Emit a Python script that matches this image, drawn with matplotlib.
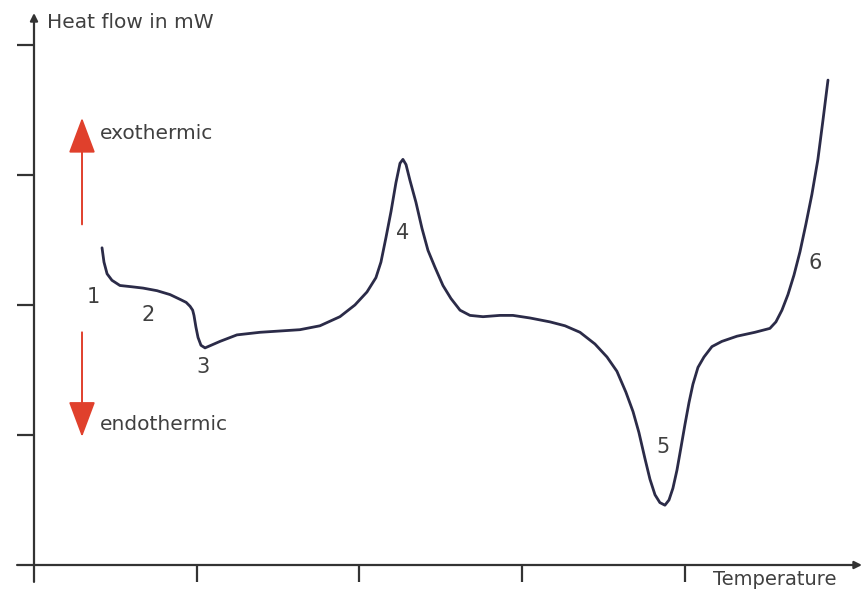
import matplotlib
matplotlib.use("Agg")
import matplotlib.pyplot as plt

# ---- data ----
temperature = [41.8, 43.0, 44.9, 47.9, 52.8, 60.2, 67.0, 75.6, 83.6, 90.3,
               93.5, 95.9, 97.5, 98.3, 99.5, 100.8, 102.6, 105.1, 108.8, 114.3, 124.7, 138.9,
               151.2, 163.4, 175.7, 188.0, 197.2, 204.6, 210.1, 213.2, 216.3, 219.4,
               222.4, 224.9, 226.7, 228.6, 231.0, 234.7, 238.4, 242.1, 246.4, 251.3,
               256.2, 261.8, 267.9, 275.9, 286.3, 294.3, 304.8, 317.1, 326.3, 335.5,
               344.7, 352.1, 358.2, 363.7, 368.1, 371.7, 375.4, 378.5, 381.6, 384.6,
               387.7, 390.2, 392.6, 395.1, 397.5, 400.0, 402.5, 404.9, 408.0, 411.7,
               416.6, 422.7, 432.0, 443.0, 452.2, 455.9, 459.6, 463.3, 467.0, 470.7,
               474.3, 478.0, 481.7, 484.8, 487.9]
heat_flow = [24.4, 23.3, 22.4, 21.9, 21.5, 21.4, 21.3, 21.1, 20.8, 20.4,
             20.2, 19.9, 19.6, 19.2, 18.3, 17.5, 16.9, 16.7, 16.9, 17.2, 17.7, 17.9,
             18.0, 18.1, 18.4, 19.1, 20.0, 21.0, 22.1, 23.3, 25.2, 27.2,
             29.4, 30.9, 31.2, 30.8, 29.6, 27.9, 25.9, 24.2, 22.9, 21.5,
             20.5, 19.6, 19.2, 19.1, 19.2, 19.2, 19.0, 18.7, 18.4, 17.9,
             17.0, 16.0, 14.9, 13.3, 11.8, 10.2, 8.2, 6.6, 5.4, 4.8,
             4.6, 5.0, 5.9, 7.3, 9.0, 10.8, 12.5, 13.9, 15.2, 16.0,
             16.8, 17.2, 17.6, 17.9, 18.2, 18.7, 19.6, 20.8, 22.3, 24.1,
             26.2, 28.5, 31.2, 34.2, 37.3]

region_labels = ["1", "2", "3", "4", "5", "6"]
region_x = [36.3, 70.0, 103.8, 226.7, 386.5, 479.9]
region_y = [20.6, 19.2, 15.2, 25.5, 9.1, 23.2]

x_ticks = [100, 200, 300, 400]
y_ticks = [10, 20, 30, 40]

y_label = "Heat flow in mW"
x_label = "Temperature"

# ---- figure ----
W, H, DPI = 863, 596, 100
fig = plt.figure(figsize=(W / DPI, H / DPI), dpi=DPI)
fig.patch.set_facecolor("white")

ax = fig.add_axes([34 / W, (H - 565) / H, 828 / W, 552 / H])
XMAX, YMAX = 508.8, 42.46
ax.set_xlim(0, XMAX)
ax.set_ylim(0, YMAX)
ax.set_facecolor("none")
for s in ax.spines.values():
    s.set_visible(False)

axis_col = "#333333"
text_col = "#404040"

ax.set_xticks(x_ticks)
ax.set_yticks(y_ticks)
ax.set_xticklabels([])
ax.set_yticklabels([])
ax.tick_params(axis="both", direction="out", length=12, width=1.6,
               color=axis_col)

# axis lines with arrow heads
arrow_kw = dict(arrowstyle="-|>", lw=1.6, color=axis_col,
                mutation_scale=11, shrinkA=0, shrinkB=0)
ax.annotate("", xy=(XMAX, 0), xytext=(-10.4, 0), xycoords="data",
            arrowprops=arrow_kw, annotation_clip=False)
ax.annotate("", xy=(0, YMAX), xytext=(0, -1.3), xycoords="data",
            arrowprops=arrow_kw, annotation_clip=False)

# curve
ax.plot(temperature, heat_flow, color="#2b2b48", lw=2.0,
        solid_capstyle="round", solid_joinstyle="round", clip_on=False)

# region numbers
for lab, xx, yy in zip(region_labels, region_x, region_y):
    ax.text(xx, yy, lab, ha="center", va="center", fontsize=15,
            color=text_col)

# exo / endo arrows
red_head = "#e0402c"
red_shaft = "#c98a7a"
head_style = "-|>,head_length=1.6,head_width=0.6"
ax.annotate("", xy=(29.5, 34.4), xytext=(29.5, 26.2),
            arrowprops=dict(arrowstyle=head_style,
                            lw=1.4, color=red_shaft, fc=red_head, ec=red_head,
                            shrinkA=0, shrinkB=0, mutation_scale=14))
ax.annotate("", xy=(29.5, 9.85), xytext=(29.5, 17.9),
            arrowprops=dict(arrowstyle=head_style,
                            lw=1.4, color=red_shaft, fc=red_head, ec=red_head,
                            shrinkA=0, shrinkB=0, mutation_scale=14))
ax.text(40.6, 33.2, "exothermic", ha="left", va="center", fontsize=14.5,
        color=text_col)
ax.text(40.6, 10.8, "endothermic", ha="left", va="center", fontsize=14.5,
        color=text_col)

# axis titles
ax.text(8.0, 41.7, y_label, ha="left", va="center", fontsize=14.5,
        color=text_col, clip_on=False)
ax.text(417.2, -1.15, x_label, ha="left", va="center", fontsize=14,
        color=text_col, clip_on=False)

fig.savefig("out.png", dpi=DPI, facecolor="white")
